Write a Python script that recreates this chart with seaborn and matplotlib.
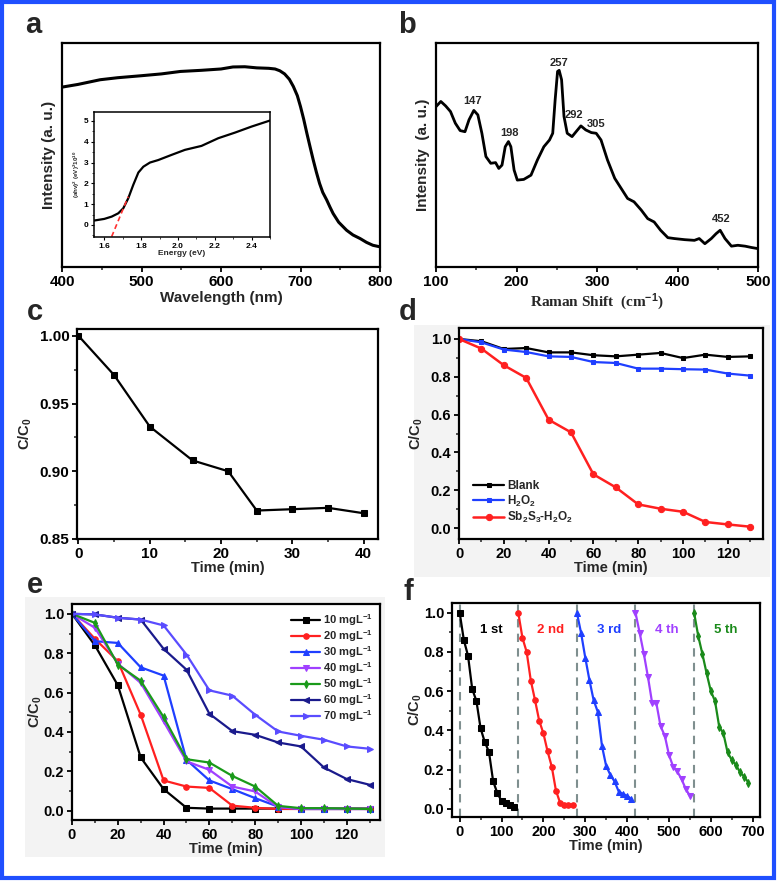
import numpy as np
import pandas as pd
import matplotlib
matplotlib.use("Agg")
import matplotlib.pyplot as plt
import seaborn as sns
from matplotlib.patches import Rectangle
from matplotlib.ticker import MultipleLocator, FormatStrFormatter

# ---- data ----
# a: UV-vis spectrum
wavelength = [400, 420, 448, 470, 500, 525, 549, 575, 600, 615, 630, 645, 660, 668, 674,
              680, 686, 691, 696, 700, 704, 708, 712, 716, 720, 724, 728, 733, 737, 741,
              748, 758, 766, 775, 783, 791, 800]
absorb = [0.803, 0.815, 0.836, 0.845, 0.854, 0.862, 0.873, 0.878, 0.884, 0.893, 0.894,
          0.889, 0.887, 0.884, 0.876, 0.862, 0.838, 0.806, 0.765, 0.716, 0.660, 0.597,
          0.537, 0.478, 0.423, 0.373, 0.333, 0.299, 0.268, 0.239, 0.200, 0.164, 0.143,
          0.127, 0.110, 0.097, 0.090]
# a inset: Tauc plot
energy = [1.544, 1.6, 1.64, 1.676, 1.703, 1.73, 1.757, 1.785, 1.812, 1.848, 1.893,
          1.966, 2.038, 2.128, 2.219, 2.31, 2.4, 2.5]
tauc = [0.21, 0.29, 0.40, 0.56, 0.80, 1.28, 1.92, 2.52, 2.80, 3.0, 3.12, 3.37, 3.61,
        3.80, 4.17, 4.44, 4.73, 5.02]
fit_x = [1.64, 1.73]
fit_y = [-0.56, 1.36]

# b: Raman spectrum
raman_shift = [100, 106, 112, 118, 124, 130, 136, 141, 147, 152, 157, 162, 168, 174,
               178, 182, 186, 190, 193, 197, 201, 209, 218, 226, 234, 241, 245, 248,
               251, 253, 256, 259, 263, 269, 274, 280, 286, 293, 299, 305, 313, 322,
               330, 338, 346, 355, 363, 371, 379, 388, 396, 409, 421, 427, 434, 442,
               448, 453, 459, 467, 475, 484, 492, 500]
raman_int = [0.716, 0.739, 0.719, 0.694, 0.642, 0.609, 0.604, 0.657, 0.699, 0.679,
             0.597, 0.493, 0.463, 0.466, 0.440, 0.455, 0.537, 0.560, 0.537, 0.433,
             0.388, 0.391, 0.410, 0.478, 0.537, 0.567, 0.597, 0.746, 0.873, 0.878,
             0.836, 0.672, 0.597, 0.582, 0.604, 0.630, 0.612, 0.600, 0.597, 0.567,
             0.478, 0.396, 0.351, 0.306, 0.291, 0.254, 0.216, 0.201, 0.164, 0.131,
             0.127, 0.122, 0.119, 0.127, 0.104, 0.127, 0.149, 0.164, 0.127, 0.093,
             0.097, 0.093, 0.087, 0.082]
peak_names = ["147", "198", "257", "292", "305", "452"]
peak_x = [145, 191, 253, 271, 299, 454]
peak_y = [0.739, 0.597, 0.91, 0.679, 0.637, 0.216]

# c: adsorption
time_c = [0, 5, 10, 16, 21, 25, 30, 35, 40]
cc0_c = [1.0, 0.971, 0.933, 0.908, 0.900, 0.871, 0.872, 0.873, 0.869]

# d: control experiments
time_d = [0, 10, 20, 30, 40, 50, 60, 70, 80, 90, 100, 110, 120, 130]
blank = [1.0, 0.988, 0.947, 0.952, 0.929, 0.929, 0.914, 0.908, 0.917, 0.926, 0.899,
         0.917, 0.905, 0.908]
h2o2 = [1.0, 0.982, 0.944, 0.931, 0.908, 0.905, 0.878, 0.873, 0.843, 0.843, 0.840,
        0.838, 0.817, 0.806]
sb2s3_h2o2 = [1.0, 0.949, 0.861, 0.794, 0.573, 0.506, 0.284, 0.215, 0.125, 0.102,
              0.086, 0.032, 0.019, 0.007]

# e: initial concentration
time_e = [0, 10, 20, 30, 40, 50, 60, 70, 80, 90, 100, 110, 120, 130]
conc_labels = ["10 mgL$^{-1}$", "20 mgL$^{-1}$", "30 mgL$^{-1}$", "40 mgL$^{-1}$",
               "50 mgL$^{-1}$", "60 mgL$^{-1}$", "70 mgL$^{-1}$"]
c10 = [1.0, 0.840, 0.637, 0.270, 0.109, 0.014, 0.010, 0.010, 0.010, 0.010, 0.010,
       0.010, 0.010, 0.010]
c20 = [1.0, 0.873, 0.759, 0.487, 0.153, 0.122, 0.115, 0.025, 0.014, 0.008, 0.008,
       0.008, 0.008, 0.008]
c30 = [1.0, 0.861, 0.852, 0.728, 0.686, 0.258, 0.153, 0.109, 0.063, 0.020, 0.008,
       0.008, 0.008, 0.008]
c40 = [1.0, 0.929, 0.747, 0.649, 0.453, 0.250, 0.207, 0.122, 0.097, 0.017, 0.008,
       0.008, 0.008, 0.008]
c50 = [1.0, 0.954, 0.742, 0.660, 0.475, 0.261, 0.244, 0.176, 0.122, 0.024, 0.012,
       0.012, 0.010, 0.008]
c60 = [1.0, 0.997, 0.980, 0.971, 0.822, 0.716, 0.492, 0.404, 0.385, 0.346, 0.326,
       0.219, 0.160, 0.131]
c70 = [1.0, 0.997, 0.980, 0.971, 0.941, 0.793, 0.611, 0.584, 0.487, 0.402, 0.380,
       0.360, 0.326, 0.314]

# f: recycling
cycle_names = ["1 st", "2 nd", "3 rd", "4 th", "5 th"]
cycle_start = [0, 140, 280, 420, 560]
run_time = [0, 10, 20, 30, 40, 50, 60, 70, 80, 90, 100, 110, 120, 130]
run1 = [1.0, 0.86, 0.78, 0.61, 0.55, 0.41, 0.34, 0.29, 0.14, 0.08, 0.04, 0.03, 0.02, 0.01]
run2 = [1.0, 0.871, 0.80, 0.653, 0.554, 0.449, 0.385, 0.293, 0.215, 0.093, 0.03, 0.02,
        0.02, 0.02]
run3 = [1.0, 0.897, 0.771, 0.656, 0.554, 0.494, 0.32, 0.218, 0.173, 0.139, 0.088, 0.076,
        0.066, 0.05]
run4 = [1.0, 0.897, 0.79, 0.67, 0.537, 0.537, 0.42, 0.373, 0.275, 0.215, 0.19, 0.151,
        0.102, 0.066]
run5 = [1.0, 0.88, 0.788, 0.69, 0.60, 0.549, 0.419, 0.385, 0.288, 0.249, 0.224, 0.185,
        0.163, 0.133]

# ---- style ----
sns.set_theme(style="ticks")
plt.rcParams["font.family"] = ["Liberation Sans", "DejaVu Sans"]
plt.rcParams["font.weight"] = "bold"
plt.rcParams["axes.labelweight"] = "bold"
plt.rcParams["mathtext.fontset"] = "custom"
plt.rcParams["mathtext.rm"] = "Liberation Sans:bold"
plt.rcParams["mathtext.bf"] = "Liberation Sans:bold"
plt.rcParams["mathtext.it"] = "Liberation Sans:bold"
plt.rcParams["mathtext.default"] = "bf"

W, H = 782, 886
fig = plt.figure(figsize=(W / 100, H / 100), dpi=100)


def box(l, t, r, b):
    # pixel box -> figure fraction rect
    return [l / W, 1 - b / H, (r - l) / W, (b - t) / H]


def style_ax(ax, fs=10.5):
    for s in ax.spines.values():
        s.set_linewidth(1.6)
        s.set_color("black")
    ax.tick_params(which="major", direction="out", length=3.5, width=1.3, labelsize=fs,
                   colors="black", top=False, right=False, pad=2)
    ax.tick_params(which="minor", direction="out", length=2, width=1.1,
                   top=False, right=False)
    ax.set_facecolor("white")


blue_border = "#1f4fff"
fig.patches.append(Rectangle((2 / W, 1 - 878 / H), 772 / W, 876 / H, transform=fig.transFigure,
                             fill=False, edgecolor=blue_border, lw=3, zorder=0))
# light grey backdrops behind d and e
for (l, t, r, b) in [(414, 325, 770, 577), (25, 597, 385, 857)]:
    fig.patches.append(Rectangle((l / W, 1 - b / H), (r - l) / W, (b - t) / H,
                                 transform=fig.transFigure, facecolor="#f3f3f3",
                                 edgecolor="none", zorder=-1))

# ---- a ----
ax_a = fig.add_axes(box(62, 43, 380, 267))
sns.lineplot(x=wavelength, y=absorb, color="black", lw=2.2, ax=ax_a)
ax_a.set_xlim(400, 800)
ax_a.set_ylim(0, 1)
ax_a.set_yticks([])
ax_a.xaxis.set_major_locator(MultipleLocator(100))
ax_a.xaxis.set_minor_locator(MultipleLocator(50))
style_ax(ax_a, fs=11)
ax_a.set_xlabel("Wavelength (nm)", fontsize=11, labelpad=2)
ax_a.set_ylabel("Intensity (a. u.)", fontsize=11)

ins = ax_a.inset_axes([(94 - 62) / 318, (267 - 237) / 224, (270 - 94) / 318, (237 - 112) / 224])
sns.lineplot(x=energy, y=tauc, color="black", lw=1.6, ax=ins)
ins.plot(fit_x, fit_y, color="#ff3030", ls=(0, (3, 2)), lw=1.2)
ins.set_xlim(1.544, 2.5)
ins.set_ylim(-0.58, 5.43)
ins.xaxis.set_major_locator(MultipleLocator(0.2))
ins.xaxis.set_minor_locator(MultipleLocator(0.1))
ins.yaxis.set_major_locator(MultipleLocator(1))
ins.yaxis.set_minor_locator(MultipleLocator(0.5))
style_ax(ins, fs=6)
for s in ins.spines.values():
    s.set_linewidth(1.1)
ins.tick_params(which="major", length=2, width=0.8)
ins.tick_params(which="minor", length=1.2, width=0.6)
ins.set_xlabel("Energy (eV)", fontsize=6, labelpad=0)
ins.set_ylabel(r"(ahν)$^2$ (eV)$^2$10$^{10}$", fontsize=4.5, labelpad=1)

# ---- b ----
ax_b = fig.add_axes(box(436, 43, 758, 267))
sns.lineplot(x=raman_shift, y=raman_int, color="black", lw=2.0, ax=ax_b)
ax_b.set_xlim(100, 500)
ax_b.set_ylim(0, 1)
ax_b.set_yticks([])
ax_b.xaxis.set_major_locator(MultipleLocator(100))
ax_b.xaxis.set_minor_locator(MultipleLocator(50))
style_ax(ax_b, fs=11)
ax_b.set_xlabel(r"Raman Shift  (cm$^{-1}$)", fontsize=11, labelpad=2,
                family=["Liberation Serif", "DejaVu Serif"])
ax_b.set_ylabel("Intensity  (a. u.)", fontsize=11)
for name, px, py in zip(peak_names, peak_x, peak_y):
    ax_b.text(px, py, name, fontsize=8, ha="center", va="center")

# ---- c ----
ax_c = fig.add_axes(box(77, 329, 378, 539))
sns.lineplot(x=time_c, y=cc0_c, color="black", lw=1.6, marker="s", markersize=4,
             markeredgecolor="black", ax=ax_c)
ax_c.set_xlim(-0.2, 42)
ax_c.set_ylim(0.85, 1.005)
ax_c.xaxis.set_major_locator(MultipleLocator(10))
ax_c.xaxis.set_minor_locator(MultipleLocator(5))
ax_c.yaxis.set_major_locator(MultipleLocator(0.05))
ax_c.yaxis.set_minor_locator(MultipleLocator(0.025))
ax_c.yaxis.set_major_formatter(FormatStrFormatter("%.2f"))
style_ax(ax_c, fs=11)
ax_c.set_xlabel("Time (min)", fontsize=10.5, labelpad=0)
ax_c.set_ylabel("C/C$_0$", fontsize=10.5)

# ---- d ----
ax_d = fig.add_axes(box(459, 328, 763, 539))
sns.lineplot(x=time_d, y=blank, color="black", lw=1.6, marker="s", markersize=3.5,
             markeredgecolor="black", label="Blank", ax=ax_d)
sns.lineplot(x=time_d, y=h2o2, color="#1f3fff", lw=1.6, marker="s", markersize=3.5,
             markeredgecolor="#1f3fff", label="H$_2$O$_2$", ax=ax_d)
sns.lineplot(x=time_d, y=sb2s3_h2o2, color="#ff2020", lw=1.8, marker="o", markersize=4.5,
             markeredgecolor="#ff2020", label="Sb$_2$S$_3$-H$_2$O$_2$", ax=ax_d)
ax_d.set_xlim(0, 135.7)
ax_d.set_ylim(-0.058, 1.058)
ax_d.xaxis.set_major_locator(MultipleLocator(20))
ax_d.xaxis.set_minor_locator(MultipleLocator(10))
ax_d.yaxis.set_major_locator(MultipleLocator(0.2))
ax_d.yaxis.set_minor_locator(MultipleLocator(0.1))
style_ax(ax_d)
ax_d.set_xlabel("Time (min)", fontsize=10.5, labelpad=0)
ax_d.set_ylabel("C/C$_0$", fontsize=10.5)
ax_d.legend(loc="lower left", frameon=False, fontsize=8.5, handlelength=2.6,
            handletextpad=0.3, labelspacing=0.1, borderaxespad=0.8)

# ---- e ----
ax_e = fig.add_axes(box(72, 604, 380, 820))
e_series = [c10, c20, c30, c40, c50, c60, c70]
e_colors = ["black", "#ff2020", "#1f3fff", "#a040ff", "#1a9a1a", "#1a1a8c", "#5a4cff"]
e_markers = ["s", "o", "^", "v", "d", "<", ">"]
for lab, ys, col, mk in zip(conc_labels, e_series, e_colors, e_markers):
    sns.lineplot(x=time_e, y=ys, color=col, lw=1.6, marker=mk, markersize=4,
                 markeredgecolor=col, label=lab, ax=ax_e)
ax_e.set_xlim(0, 134.5)
ax_e.set_ylim(-0.048, 1.05)
ax_e.xaxis.set_major_locator(MultipleLocator(20))
ax_e.xaxis.set_minor_locator(MultipleLocator(10))
ax_e.yaxis.set_major_locator(MultipleLocator(0.2))
ax_e.yaxis.set_minor_locator(MultipleLocator(0.1))
style_ax(ax_e)
ax_e.set_xlabel("Time (min)", fontsize=10.5, labelpad=0)
ax_e.set_ylabel("C/C$_0$", fontsize=10.5, labelpad=0)
ax_e.legend(loc="upper right", frameon=False, fontsize=8, handlelength=2.6,
            handletextpad=0.2, labelspacing=0.02, borderaxespad=0.3)

# ---- f ----
ax_f = fig.add_axes(box(452, 603, 760, 817))
runs = [run1, run2, run3, run4, run5]
f_colors = ["black", "#ff2020", "#1f3fff", "#a040ff", "#1a8a1a"]
f_markers = ["s", "o", "^", "v", "d"]
for i, (ys, col, mk) in enumerate(zip(runs, f_colors, f_markers)):
    xs = [cycle_start[i] + t for t in run_time]
    sns.lineplot(x=xs, y=ys, color=col, lw=1.6, marker=mk, markersize=4,
                 markeredgecolor=col, ax=ax_f)
    ax_f.axvline(cycle_start[i], color="#7f8f8f", ls=(0, (4, 3)), lw=1.5, zorder=0)
    ax_f.text(cycle_start[i] + 76, 0.91, cycle_names[i], color=col, fontsize=9.5,
              ha="center", va="center")
ax_f.set_xlim(-18.3, 717.5)
ax_f.set_ylim(-0.042, 1.049)
ax_f.xaxis.set_major_locator(MultipleLocator(100))
ax_f.xaxis.set_minor_locator(MultipleLocator(50))
ax_f.yaxis.set_major_locator(MultipleLocator(0.2))
ax_f.yaxis.set_minor_locator(MultipleLocator(0.1))
style_ax(ax_f)
ax_f.set_xlabel("Time (min)", fontsize=10.5, labelpad=0)
ax_f.set_ylabel("C/C$_0$", fontsize=10.5, labelpad=0)

# panel letters
for lab, px, py in [("a", 25, 33), ("b", 398, 33), ("c", 27, 320), ("d", 399, 320),
                    ("e", 27, 593), ("f", 403, 600)]:
    fig.text(px / W, 1 - py / H, lab, fontsize=21, fontweight="bold", va="baseline")

fig.savefig("out.png", dpi=100)
